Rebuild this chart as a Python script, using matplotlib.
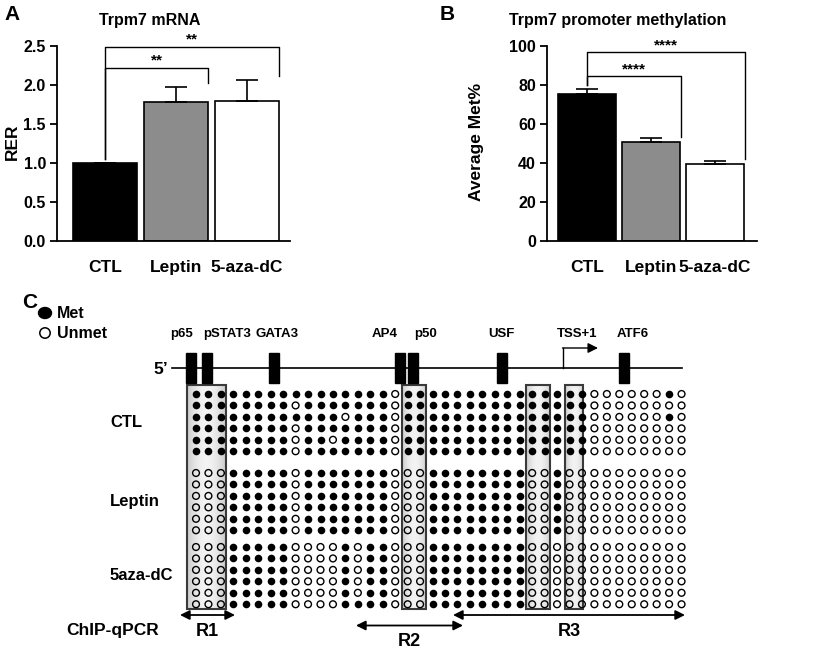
import numpy as np
import matplotlib
matplotlib.use('Agg')
import matplotlib.pyplot as plt
from matplotlib.patches import Rectangle, Ellipse, Circle

plt.rcParams['font.family'] = ['Liberation Sans', 'DejaVu Sans']
plt.rcParams['font.weight'] = 'bold'

W, H = 821, 652

# ---- panel A / B data
groups = ['CTL', 'Leptin', '5-aza-dC']
rer = [1.0, 1.78, 1.80]
rer_err = [0.0, 0.19, 0.26]
met = [75.5, 50.8, 39.5]
met_err = [2.3, 2.0, 1.3]
bar_colors = ['black', '#8c8c8c', 'white']

# ---- panel C data: 1 = methylated, 0 = unmethylated (40 CpG sites per clone)
ctl_rows = [
    '1111111111111111' + '0' + '111111111111111' + '000000' + '10',
    '11111111' + '0' + '1111111' + '0' + '111111111111111' + '00000000',
    '111111111111' + '0' + '111' + '0' + '111111111111111' + '000000' + '10',
    '11111111' + '0' + '1111111' + '0' + '111111111111111' + '00000000',
    '11111111' + '0' + '11' + '0' + '1111' + '0' + '111111111111111' + '00000000',
    '11111111' + '0' + '1111111' + '0' + '111111111111111' + '00000000',
]
leptin_rows = ['000' + '11111' + '0' + '1111111' + '000' + '11111111' + '00' + '1' + '0000000000'] * 6
aza_rows = ['000' + '11111' + '0000' + '1' + '0' + '11' + '000' + '11111111' + '0000000000000'] * 5 + \
           ['000' + '11111' + '0000' + '1111' + '000' + '11111111' + '0000000000000']
clone_groups = ['CTL', 'Leptin', '5aza-dC']

sites = ['p65', 'pSTAT3', 'GATA3', 'AP4', 'p50', 'USF', 'ATF6']
site_x = [191, 206.5, 274, 400, 412.5, 502, 623.5]
site_lab_x = [181.7, 226.7, 276.7, 385, 426, 501.7, 633]
tss_x = 563

# ChIP boxes, in CpG column units (start, end)
chip_cols = [(-0.72, 2.4), (16.55, 18.5), (26.5, 28.45), (29.6, 31.1)]
regions = ['R1', 'R2', 'R3']
region_px = [(180, 235), (356, 463), (453, 685)]

fig = plt.figure(figsize=(W / 100, H / 100), dpi=100)

def rect(l, t, r, b):
    return [l / W, 1 - b / H, (r - l) / W, (b - t) / H]

axC = fig.add_axes([0, 0, 1, 1])
axC.set_xlim(0, W)
axC.set_ylim(H, 0)
axC.axis('off')


def bar_panel(ax, vals, errs, ylim, yticks, fmt):
    x = np.arange(len(vals))
    ax.bar(x, vals, width=0.9, color=bar_colors, edgecolor='black', linewidth=1.2, zorder=2)
    ax.errorbar(x, vals, yerr=[np.zeros(len(errs)), errs], fmt='none', ecolor='black',
                elinewidth=1.2, capsize=8, capthick=1.2, zorder=3)
    ax.set_ylim(*ylim)
    ax.set_yticks(yticks)
    ax.set_yticklabels([fmt % v for v in yticks])
    ax.set_xticks(x)
    ax.set_xticklabels(groups, fontsize=12.5, fontweight='bold')
    for s in ['top', 'right']:
        ax.spines[s].set_visible(False)
    for s in ['left', 'bottom']:
        ax.spines[s].set_linewidth(1.3)
    ax.tick_params(axis='y', direction='out', length=5, width=1.3, labelsize=11.5, pad=3)
    ax.tick_params(axis='x', length=0, pad=14)


def bracket(ax, x1, x2, ytop, ylow1, ylow2, label):
    ax.plot([x1, x1, x2, x2], [ylow1, ytop, ytop, ylow2], color='black', lw=1.0,
            clip_on=False, zorder=4)
    ax.text((x1 + x2) / 2, ytop, label, ha='center', va='bottom', fontsize=11,
            fontweight='bold', clip_on=False)


axA = fig.add_axes(rect(57, 46, 290, 241))
bar_panel(axA, rer, rer_err, (0, 2.5), np.arange(0, 2.51, 0.5), '%.1f')
axA.set_xlim(-0.68, 2.61)
bracket(axA, 0, 1.45, 2.22, 1.05, 2.03, '**')
bracket(axA, 0, 2.45, 2.49, 1.05, 2.12, '**')

axB = fig.add_axes(rect(547, 46, 757, 241))
bar_panel(axB, met, met_err, (0, 100), np.arange(0, 101, 20), '%d')
axB.set_xlim(-0.63, 2.66)
bracket(axB, 0, 1.465, 84.6, 80, 53.5, '****')
bracket(axB, 0, 2.465, 96.9, 80, 42, '****')

# titles / labels
axC.text(12, 14, 'A', fontsize=15, ha='center', va='center')
axC.text(447, 14, 'B', fontsize=15, ha='center', va='center')
axC.text(30, 302, 'C', fontsize=15, ha='center', va='center')
axC.text(150, 20, 'Trpm7 mRNA', fontsize=11.5, ha='center', va='center')
axC.text(618, 20, 'Trpm7 promoter methylation', fontsize=11.5, ha='center', va='center')
axC.text(12, 142, 'RER', fontsize=12.5, rotation=90, ha='center', va='center')
axC.text(477, 142, 'Average Met%', fontsize=12.5, rotation=90, ha='center', va='center')

# ---- panel C
X0, DX, DY = 196, 12.45, 11.45
group_y0 = [394, 473, 547]
box_top, box_bot = 385, 609

grad = 0.95 - 0.16 * np.linspace(-1, 1, 40) ** 2
for c0, c1 in chip_cols:
    l, r = X0 + c0 * DX, X0 + c1 * DX
    axC.imshow(grad[None, :], cmap='gray', vmin=0, vmax=1, aspect='auto',
               extent=(l, r, box_bot, box_top), zorder=1)
    axC.add_patch(Rectangle((l, box_top), r - l, box_bot - box_top, fill=False,
                            edgecolor='#3a3a3a', lw=1.5, zorder=3))

for name, rows, y0 in zip(clone_groups, [ctl_rows, leptin_rows, aza_rows], group_y0):
    m = np.array([[int(ch) for ch in r] for r in rows])
    rr, cc = np.nonzero(m == 1)
    axC.scatter(X0 + cc * DX, y0 + rr * DY, s=30, c='black', linewidths=0, zorder=4)
    rr, cc = np.nonzero(m == 0)
    axC.scatter(X0 + cc * DX, y0 + rr * DY, s=24, facecolors='none', edgecolors='black',
                linewidths=1.0, zorder=4)
    axC.text(110, y0 + 2.5 * DY, name, fontsize=12, ha='left', va='center')

# gene track
axC.plot([172, 682], [368, 368], color='black', lw=1.2)
for name, sx, lx in zip(sites, site_x, site_lab_x):
    axC.add_patch(Rectangle((sx - 5, 353), 10, 30, color='black', zorder=3))
    axC.text(lx, 334, name, fontsize=9.5, ha='center', va='center')
axC.plot([tss_x, tss_x], [368, 348], color='black', lw=1.0)
axC.annotate('', xy=(598, 348), xytext=(tss_x - 0.5, 348),
             arrowprops=dict(arrowstyle='-|>', color='black', lw=1.0, mutation_scale=15,
                             shrinkA=0, shrinkB=0))
axC.text(576.7, 334, 'TSS+1', fontsize=9.5, ha='center', va='center')
axC.text(161, 369, '5\u2019', fontsize=12.5, ha='center', va='center')

# legend
axC.add_patch(Ellipse((45, 313), 13, 11, color='black'))
axC.add_patch(Circle((45, 333), 5.2, facecolor='white', edgecolor='black', lw=1.1))
axC.text(57, 313, 'Met', fontsize=11.5, ha='left', va='center')
axC.text(57, 333, 'Unmet', fontsize=11.5, ha='left', va='center')

# ChIP regions
axC.text(113, 631, 'ChIP-qPCR', fontsize=12.5, ha='center', va='center')
region_y = [615, 625.5, 615]
label_y = [632, 642, 632]
for name, (a, b), ay, ly in zip(regions, region_px, region_y, label_y):
    axC.annotate('', xy=(b, ay), xytext=(a, ay),
                 arrowprops=dict(arrowstyle='<|-|>', color='black', lw=1.3, mutation_scale=14,
                                 shrinkA=0, shrinkB=0))
    axC.text((a + b) / 2, ly, name, fontsize=13, ha='center', va='center')

axC.set_xlim(0, W)
axC.set_ylim(H, 0)

fig.savefig('out.png', dpi=100)
